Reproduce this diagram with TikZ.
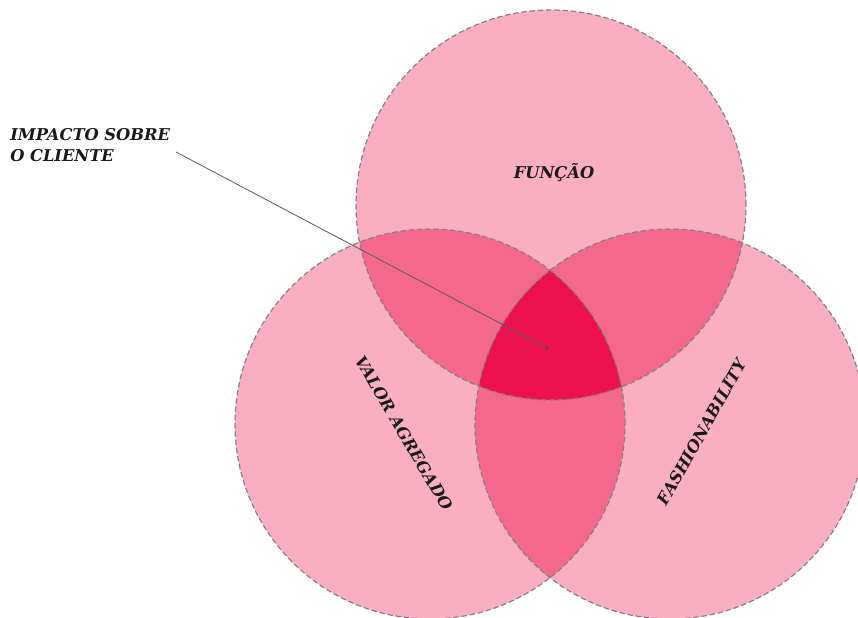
\documentclass[tikz,border=0pt]{standalone}
\usepackage{fontspec}
\usepackage{tikz}
\newfontfamily\capsfont{DejaVu Serif}
\definecolor{PinkBase}{RGB}{249,175,193}
\definecolor{PinkTwo}{RGB}{244,104,140}
\definecolor{PinkThree}{RGB}{237,16,80}
\definecolor{RimGray}{RGB}{135,125,130}

\begin{document}
\begin{tikzpicture}[x=0.75pt, y=-0.75pt,
  rim/.style={draw=RimGray, dashed, dash pattern=on 4pt off 2.2pt, line width=0.9pt},
  lbl/.style={font=\capsfont\bfseries\itshape\fontsize{12.2}{15.5}\selectfont, inner sep=0pt, text=black!90}]
\useasboundingbox (0,0) rectangle (858,618);
\def\rad{146.25pt}
\coordinate (topc) at (551,205);
\coordinate (leftc) at (430,424);
\coordinate (rightc) at (670,424);

\fill[PinkBase] (topc) circle[radius=\rad];
\fill[PinkBase] (leftc) circle[radius=\rad];
\fill[PinkBase] (rightc) circle[radius=\rad];
\begin{scope}
  \clip (topc) circle[radius=\rad];
  \fill[PinkTwo] (leftc) circle[radius=\rad];
  \fill[PinkTwo] (rightc) circle[radius=\rad];
\end{scope}
\begin{scope}
  \clip (leftc) circle[radius=\rad];
  \fill[PinkTwo] (rightc) circle[radius=\rad];
\end{scope}
\begin{scope}
  \clip (topc) circle[radius=\rad];
  \clip (leftc) circle[radius=\rad];
  \fill[PinkThree] (rightc) circle[radius=\rad];
\end{scope}
\draw[rim] (topc) circle[radius=\rad];
\draw[rim] (leftc) circle[radius=\rad];
\draw[rim] (rightc) circle[radius=\rad];

\node[lbl, anchor=north west, align=left] (impacto) at (10,128) {IMPACTO SOBRE\\O CLIENTE};
\node[lbl] (funcao) at (554,173) {FUNÇÃO};
\node[lbl, rotate=-59.6] (valor) at (404,433) {VALOR AGREGADO};
\node[lbl, rotate=60.6] (fashion) at (702,432) {FASHIONABILITY};

\coordinate (alvo) at (547,348);
\coordinate (pe) at (176,152);
\draw[draw=black!65, line width=0.6pt] (pe) -- (alvo);
\fill[black!70] (alvo) circle[radius=1.2pt];
\end{tikzpicture}
\end{document}
